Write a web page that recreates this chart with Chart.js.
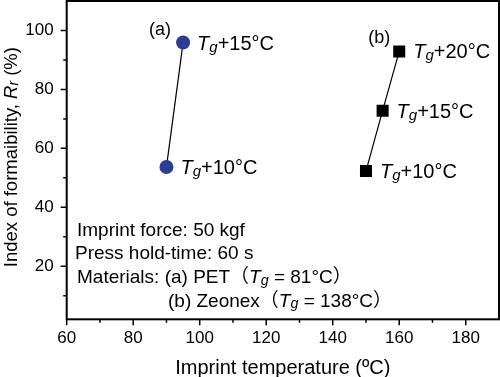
<!DOCTYPE html>
<html><head><meta charset="utf-8">
<script src="https://cdn.jsdelivr.net/npm/chart.js@4.4.0/dist/chart.umd.min.js"></script>
<style>html,body{margin:0;padding:0;background:#fff;}canvas{display:block;}</style>
</head><body>
<canvas id="c" width="500" height="377"></canvas>
<script>
// ---- data ----
const xTicks = [60, 80, 100, 120, 140, 160, 180];
const xMinorTicks = [70, 90, 110, 130, 150, 170];
const yTicks = [20, 40, 60, 80, 100];
const yMinorTicks = [10, 30, 50, 70, 90];

const petTemps = [90, 95];
const petRf = [53.7, 95.9];
const petLabels = ['+10°C', '+15°C'];

const zeoTemps = [150, 155, 160];
const zeoRf = [52.3, 72.8, 92.9];
const zeoLabels = ['+10°C', '+15°C', '+20°C'];

const groupNames = ['(a)', '(b)'];
const xTitle = 'Imprint temperature (ºC)';
const yTitleParts = ['Index of formaibility, ', 'R', 'r', ' (%)'];
const noteLine1 = 'Imprint force: 50 kgf';
const noteLine2 = 'Press hold-time: 60 s';
const noteLine3 = ['Materials: (a) PET', '81°C'];
const noteLine4 = ['(b) Zeonex', '138°C'];

// ---- drawing helpers ----
const FAM = '"Liberation Sans", Arial, "Noto Sans CJK SC", sans-serif';
function fnt(size, italic) { return (italic ? 'italic ' : '') + size + 'px ' + FAM; }
function richWidth(ctx, parts, size) {
  let w = 0;
  for (const p of parts) { ctx.font = fnt(p.sub ? size * 0.75 : size, p.it); w += ctx.measureText(p.t).width; }
  return w;
}
function drawRich(ctx, parts, x, y, size) {
  ctx.textAlign = 'left'; ctx.textBaseline = 'alphabetic';
  for (const p of parts) {
    const s = p.sub ? size * 0.75 : size;
    ctx.font = fnt(s, p.it);
    ctx.fillText(p.t, x, y + (p.sub ? size * 0.1 : 0));
    x += ctx.measureText(p.t).width;
  }
  return x;
}
const tg = [{t: 'T', it: true}, {t: 'g', it: true, sub: true}];

const decor = {
  id: 'decor',
  afterDraw(chart) {
    const ctx = chart.ctx, ca = chart.chartArea;
    const xs = chart.scales.x, ys = chart.scales.y;
    ctx.save();
    ctx.fillStyle = '#000'; ctx.strokeStyle = '#000';
    // frame
    ctx.lineWidth = 2;
    ctx.strokeRect(ca.left, ca.top, ca.right - ca.left, ca.bottom - ca.top);
    // ticks
    ctx.lineWidth = 1.5;
    ctx.beginPath();
    xTicks.forEach(v => { const p = xs.getPixelForValue(v); ctx.moveTo(p, ca.bottom); ctx.lineTo(p, ca.bottom + 6); });
    xMinorTicks.forEach(v => { const p = xs.getPixelForValue(v); ctx.moveTo(p, ca.bottom); ctx.lineTo(p, ca.bottom + 3.5); });
    yTicks.forEach(v => { const p = ys.getPixelForValue(v); ctx.moveTo(ca.left, p); ctx.lineTo(ca.left - 6, p); });
    yMinorTicks.forEach(v => { const p = ys.getPixelForValue(v); ctx.moveTo(ca.left, p); ctx.lineTo(ca.left - 3.5, p); });
    ctx.stroke();

    // point labels
    [petLabels, zeoLabels].forEach((labs, di) => {
      const meta = chart.getDatasetMeta(di);
      meta.data.forEach((el, i) => {
        drawRich(ctx, tg.concat([{t: labs[i]}]), el.x + 14, el.y + 7, 20);
      });
      const top = meta.data[meta.data.length - 1];
      ctx.font = fnt(18, false);
      ctx.fillText(groupNames[di], top.x - (di === 0 ? 34 : 31), top.y - 8);
    });

    // notes
    const ns = 19;
    drawRich(ctx, [{t: noteLine1}], 77, 236, ns);
    drawRich(ctx, [{t: noteLine2}], 75, 258.5, ns);
    drawRich(ctx, [{t: noteLine3[0]}, {t: '（'}].concat(tg, [{t: ' = ' + noteLine3[1]}, {t: '）'}]), 77, 283, ns);
    drawRich(ctx, [{t: noteLine4[0]}, {t: '（'}].concat(tg, [{t: ' = ' + noteLine4[1]}, {t: '）'}]), 168, 306.5, ns);

    // axis titles
    ctx.font = fnt(20, false);
    ctx.textAlign = 'center';
    ctx.fillText(xTitle, (ca.left + ca.right) / 2, 374);
    const yParts = [{t: yTitleParts[0]}, {t: yTitleParts[1], it: true}, {t: yTitleParts[2], it: true, sub: true}, {t: yTitleParts[3]}];
    const ysz = 18.5;
    const w = richWidth(ctx, yParts, ysz);
    ctx.translate(16.5, (ca.top + ca.bottom) / 2 - 3);
    ctx.rotate(-Math.PI / 2);
    drawRich(ctx, yParts, -w / 2, 0, ysz);
    ctx.restore();
  }
};

function noPad(s) { s.paddingTop = 0; s.paddingBottom = 0; s.paddingLeft = 0; s.paddingRight = 0; }
const tickFont = {size: 17, family: FAM};
new Chart(document.getElementById('c'), {
  type: 'scatter',
  data: {
    datasets: [
      {
        data: petTemps.map((x, i) => ({x, y: petRf[i]})),
        showLine: true, borderColor: '#000', borderWidth: 1.2,
        pointStyle: 'circle', pointRadius: 7, pointBackgroundColor: '#2c3e93', pointBorderWidth: 0
      },
      {
        data: zeoTemps.map((x, i) => ({x, y: zeoRf[i]})),
        showLine: true, borderColor: '#000', borderWidth: 1.2,
        pointStyle: 'rect', pointRadius: 8.5, pointBackgroundColor: '#000', pointBorderWidth: 0
      }
    ]
  },
  options: {
    responsive: false, animation: false, devicePixelRatio: 1,
    layout: {autoPadding: false, padding: {top: 1, right: 1, left: 0, bottom: 0}},
    plugins: {legend: {display: false}, tooltip: {enabled: false}},
    scales: {
      x: {
        type: 'linear', min: 60, max: 190,
        afterBuildTicks: s => { s.ticks = xTicks.map(v => ({value: v})); },
        afterFit: s => { s.height = 57.7; noPad(s); },
        grid: {display: false, drawTicks: false}, border: {display: false},
        ticks: {font: tickFont, color: '#000', padding: 9, maxRotation: 0, autoSkip: false}
      },
      y: {
        type: 'linear', min: 2, max: 110,
        afterBuildTicks: s => { s.ticks = yTicks.map(v => ({value: v})); },
        afterFit: s => { s.width = 66.7; noPad(s); },
        grid: {display: false, drawTicks: false}, border: {display: false},
        ticks: {font: tickFont, color: '#000', padding: 13, autoSkip: false}
      }
    }
  },
  plugins: [decor]
});
</script>
</body></html>
